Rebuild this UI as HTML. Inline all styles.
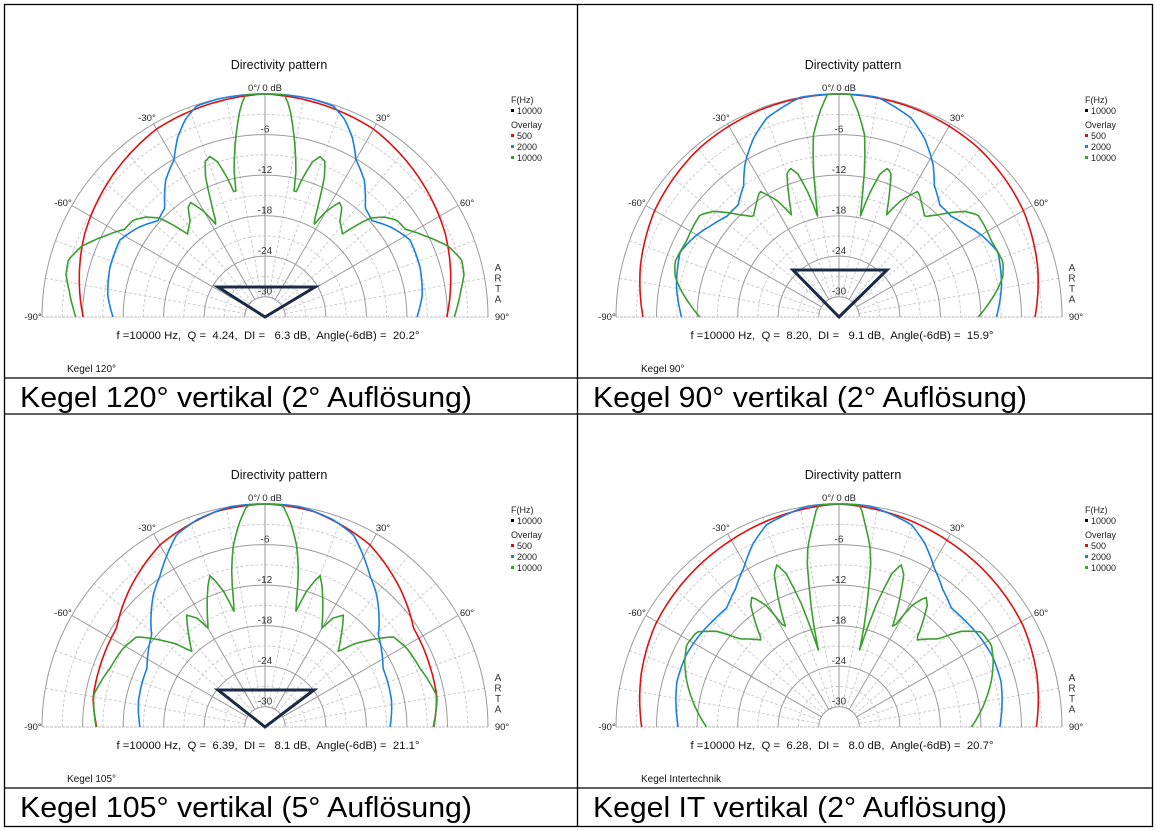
<!DOCTYPE html>
<html><head><meta charset="utf-8">
<style>
html,body{margin:0;padding:0;background:#fff;}
svg{display:block;font-family:"Liberation Sans",Arial,sans-serif;}
.pre{white-space:pre;}
</style></head>
<body>
<svg id="s" width="1157" height="831" viewBox="0 0 1157 831" xmlns="http://www.w3.org/2000/svg">
<rect x="0" y="0" width="1157" height="831" fill="#fff"/>
<g id="charts"></g>
<g stroke="#000" stroke-width="1.3" fill="none">
<rect x="4.5" y="4.5" width="1148" height="822"/>
<line x1="577.5" y1="4" x2="577.5" y2="826"/>
<line x1="4" y1="378" x2="1152" y2="378"/>
<line x1="4" y1="414" x2="1152" y2="414"/>
<line x1="4" y1="788" x2="1152" y2="788"/>
</g>
<g font-size="29" fill="#000">
<text x="20" y="407" textLength="452" lengthAdjust="spacingAndGlyphs">Kegel 120° vertikal (2° Auflösung)</text>
<text x="593" y="407" textLength="434" lengthAdjust="spacingAndGlyphs">Kegel 90° vertikal (2° Auflösung)</text>
<text x="20" y="817" textLength="452" lengthAdjust="spacingAndGlyphs">Kegel 105° vertikal (5° Auflösung)</text>
<text x="593" y="817" textLength="414" lengthAdjust="spacingAndGlyphs">Kegel IT vertikal (2° Auflösung)</text>
</g>
</svg>
<script>
(function(){
var NS="http://www.w3.org/2000/svg";
var G=document.getElementById("charts");
function el(t,a,txt){var e=document.createElementNS(NS,t);for(var k in a)e.setAttribute(k,a[k]);if(txt!==undefined)e.textContent=txt;G.appendChild(e);return e;}
var R=223;
function rad(db){var r=R*(db+33)/33;return r<0?0:r;}
function interp(tab,t){t=Math.abs(t);for(var i=0;i<tab.length-1;i++){if(t>=tab[i][0]&&t<=tab[i+1][0]){var f=(t-tab[i][0])/(tab[i+1][0]-tab[i][0]);return tab[i][1]+f*(tab[i+1][1]-tab[i][1]);}}return tab[tab.length-1][1];}
var charts=[
{cx:265,cy:317,dx:0,dy:0,kegel:"Kegel 120°",stat:"f =10000 Hz,  Q =  4.24,  DI =   6.3 dB,  Angle(-6dB) =  20.2°",tri:[[218,287],[315,287]],
red:[[0,0],[30,-0.9],[65,-3.6],[90,-6.1]],
blue:[[0,0],[12,0],[18,-0.2],[22,-1.5],[26,-3.5],[30,-6.1],[36,-8],[42.6,-11.1],[48,-11.7],[55,-10],[62,-8.7],[72,-8.9],[82,-9.5],[90,-10.5]],
green:[[0,0],[5,0],[6.5,-1.5],[8.6,-5],[10,-7.4],[12,-11],[13.4,-15],[15,-12],[17,-9],[19,-7.9],[21,-8.3],[23,-10.5],[25,-14],[27.7,-17.8],[30,-15],[33,-12.8],[35,-13.2],[38,-15],[43,-16.2],[46.7,-11.7],[50,-10],[53.7,-8.8],[58,-8.5],[63,-6.5],[69,-3.9],[73.8,-2.7],[78,-2.9],[82,-3.7],[90,-5]]},
{cx:839,cy:317,dx:574,dy:0,kegel:"Kegel 90°",stat:"f =10000 Hz,  Q =  8.20,  DI =   9.1 dB,  Angle(-6dB) =  15.9°",tri:[[793,270],[887,270]],
red:[[0,0],[20,-0.2],[40,-0.6],[60,-1.5],[76,-2.7],[90,-4]],
blue:[[0,0],[10,0],[20,-1.7],[25.6,-3.7],[31.7,-6.5],[36,-9],[42,-10.7],[48,-10.7],[54,-9.8],[60,-8.7],[67.7,-7.6],[79,-8.5],[90,-9.7]],
green:[[0,0],[3,0],[5.3,-2.5],[8,-5.8],[9.8,-10.7],[11,-15],[11.8,-18.1],[14,-14],[16,-11],[18.2,-9.8],[20,-10.5],[22,-13],[24.9,-16.4],[28,-13.5],[32.2,-11],[36,-12.2],[40.5,-13.5],[44,-12],[50,-8.7],[53.7,-7.5],[58,-7.6],[63.7,-7.8],[71.4,-7.4],[76,-8],[79.8,-9.1],[85,-10.8],[90,-12.4]]},
{cx:265,cy:727,dx:0,dy:410,kegel:"Kegel 105°",stat:"f =10000 Hz,  Q =  6.39,  DI =   8.1 dB,  Angle(-6dB) =  21.1°",tri:[[218,690],[314,690]],
red:[[0,0],[12.6,-0.3],[30,-1.9],[45,-4.5],[56.4,-6.6],[70,-7],[80.5,-7.2],[90,-8.1]],
blue:[[0,0],[9,0],[18,-0.7],[24.7,-1.7],[34.6,-5.7],[40.2,-7.4],[51,-11.4],[63.6,-13.5],[78.7,-13.9],[90,-14.5]],
green:[[0,0],[4.5,0],[7,-2.4],[9.9,-5.7],[12.4,-10],[14.8,-15.6],[17,-12],[19.9,-9.1],[22,-10.5],[26,-13.5],[29.9,-16.2],[32,-14],[35,-12.8],[40,-15.5],[44.2,-17.5],[47,-15],[50.4,-12.8],[54.9,-9.8],[61,-9],[69,-8.5],[79.4,-7.2],[90,-8]]},
{cx:839,cy:727,dx:574,dy:410,kegel:"Kegel Intertechnik",stat:"f =10000 Hz,  Q =  6.28,  DI =   8.0 dB,  Angle(-6dB) =  20.7°",tri:null,
red:[[0,0],[30.5,-1.1],[61,-1.9],[75,-2.7],[90,-3.8]],
blue:[[0,0],[8,0],[19.7,-1.2],[25,-3],[31,-5.6],[37,-7.5],[43.4,-8.8],[50,-8.6],[56.5,-8.3],[65,-8],[74.4,-8.1],[90,-9.2]],
green:[[0,0],[5.5,0],[7.1,-2.4],[10.6,-7.1],[12.4,-13],[13.8,-17],[15,-21.2],[17,-14],[19,-9],[21,-7.3],[23,-8.5],[26,-13],[28.4,-16.7],[31,-12],[33.8,-9.8],[36,-10.8],[39,-13.5],[41.6,-15.8],[45,-14.6],[48.4,-13.4],[52,-10],[56.2,-7.7],[61.7,-7.4],[67,-8.2],[73.4,-9.5],[82,-11.5],[90,-13.4]]}
];
charts.forEach(function(c){
var cx=c.cx,cy=c.cy,dx=c.dx,dy=c.dy;
function pt(t,r){var a=t*Math.PI/180;return [cx+r*Math.sin(a),cy-r*Math.cos(a)];}
for(var db=-3;db>=-30;db-=6){var r=rad(db);el("path",{d:"M"+(cx-r)+" "+cy+" A"+r+" "+r+" 0 0 1 "+(cx+r)+" "+cy,fill:"none",stroke:"#c8c8c8","stroke-width":"0.9","stroke-dasharray":"3,2"});}
for(var t=-80;t<=80;t+=10){if(t%30===0)continue;var a=pt(t,rad(-30)),b=pt(t,R);el("line",{x1:a[0],y1:a[1],x2:b[0],y2:b[1],stroke:"#c8c8c8","stroke-width":"0.9","stroke-dasharray":"3,2"});}
el("line",{x1:cx-R,y1:cy,x2:cx+R,y2:cy,stroke:"#bbb","stroke-width":"1","stroke-dasharray":"3,1"});
for(var db=0;db>=-30;db-=6){var r=rad(db);el("path",{d:"M"+(cx-r)+" "+cy+" A"+r+" "+r+" 0 0 1 "+(cx+r)+" "+cy,fill:"none",stroke:"#9a9a9a","stroke-width":"1"});}
[-60,-30,0,30,60].forEach(function(t){var a=pt(t,rad(-30)),b=pt(t,R);el("line",{x1:a[0],y1:a[1],x2:b[0],y2:b[1],stroke:"#9a9a9a","stroke-width":"1"});});
function tx(x,y,s,anchor,size,col){return el("text",{x:x,y:y,"font-size":size||"9.5","text-anchor":anchor||"middle",fill:col||"#222"},s);}
[-6,-12,-18,-24,-30].forEach(function(db){var r=rad(db);tx(cx,cy-r-2,String(db),"middle","10","#333");});
[["red","#e01010"],["blue","#1a7fe0"],["green","#3a9e30"]].forEach(function(s){
var tab=c[s[0]],d="";
for(var t=-90;t<=90;t+=1){var p=pt(t,rad(interp(tab,t)));d+=(t===-90?"M":"L")+p[0].toFixed(1)+" "+p[1].toFixed(1);}
el("path",{d:d,fill:"none",stroke:s[1],"stroke-width":"1.6","stroke-linejoin":"round"});
});
if(c.tri){el("path",{d:"M"+cx+" "+cy+" L"+c.tri[0][0]+" "+c.tri[0][1]+" L"+c.tri[1][0]+" "+c.tri[1][1]+" Z",fill:"none",stroke:"#1b2a47","stroke-width":"3"});}
tx(cx,cy-226,"0°/ 0 dB");
tx(cx-118,cy-196,"-30°");tx(cx+118,cy-196,"30°");
tx(cx-202,cy-111,"-60°");tx(cx+202,cy-111,"60°");
tx(cx-232,cy+3,"-90°");tx(cx+237,cy+3,"90°");
tx(279+dx,69+dy,"Directivity pattern","middle","12.5","#111");
var st=tx(cx+3,cy+22,c.stat,"middle","11","#111");
st.setAttribute("class","pre");st.setAttribute("xml:space","preserve");
st.setAttribute("textLength","303");st.setAttribute("lengthAdjust","spacingAndGlyphs");
tx(67+dx,372+dy,c.kegel,"start","10","#111");
["A","R","T","A"].forEach(function(ch,i){tx(cx+233,cy-46+i*10.5,ch,"middle","10","#333");});
var lx=511+dx,ly=dy;
tx(lx,103+ly,"F(Hz)","start","9","#222");
el("rect",{x:lx,y:109+ly,width:3,height:3,fill:"#000"});tx(lx+6,114+ly,"10000","start","9","#222");
tx(lx,128+ly,"Overlay","start","9","#222");
el("rect",{x:lx,y:134+ly,width:3,height:3,fill:"#e01010"});tx(lx+6,139+ly,"500","start","9","#222");
el("rect",{x:lx,y:145+ly,width:3,height:3,fill:"#1a7fe0"});tx(lx+6,150+ly,"2000","start","9","#222");
el("rect",{x:lx,y:156+ly,width:3,height:3,fill:"#3a9e30"});tx(lx+6,161+ly,"10000","start","9","#222");
});
})();
</script>
</body></html>
